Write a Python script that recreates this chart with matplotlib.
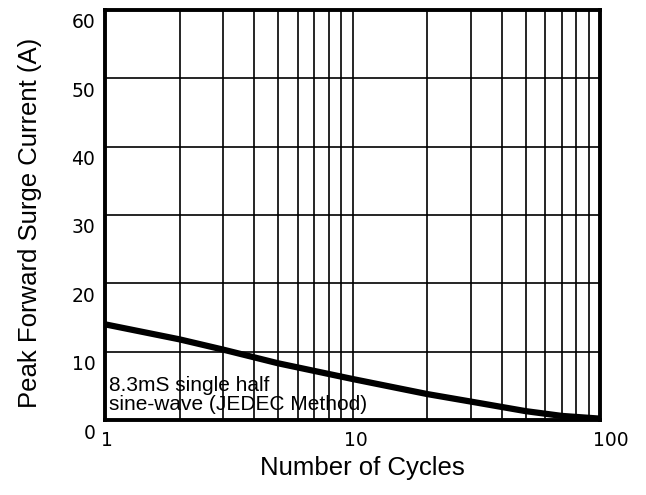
import numpy as np
import matplotlib
matplotlib.use('Agg')
import matplotlib.pyplot as plt
import matplotlib.transforms as mtrans

# curve
cycles = [1, 2, 3, 5, 10, 20, 30, 50, 70, 100]
current = [14.0, 11.8, 10.3, 8.3, 6.0, 3.8, 2.7, 1.3, 0.6, 0.2]

x_ticks = [1, 10, 100]
x_labels = ['1', '10', '100']
y_ticks = [0, 10, 20, 30, 40, 50, 60]

plt.rcParams['font.family'] = ['Liberation Sans', 'DejaVu Sans']

fig = plt.figure(figsize=(6.46, 4.95), dpi=100, facecolor='w')
ax = fig.add_axes([0.1625, 0.1515, 0.7665, 0.8285])

ax.set_xscale('log')
ax.set_xlim(1, 100)
ax.set_ylim(0, 60)

# grid lines (major and minor decades)
minor = [m * d for d in (1, 10) for m in range(2, 10)]
for v in minor + [10]:
    ax.axvline(v, color='black', lw=1.2, zorder=1)
for v in y_ticks[1:-1]:
    ax.axhline(v, color='black', lw=1.2, zorder=1)

ax.plot(cycles, current, color='black', lw=4.5, solid_capstyle='butt', zorder=3)

ax.set_xticks(x_ticks)
ax.set_xticklabels(x_labels)
ax.xaxis.set_minor_locator(matplotlib.ticker.NullLocator())
ax.set_yticks(y_ticks)
ax.set_yticklabels([str(v) for v in y_ticks])
ax.tick_params(length=0, labelsize=13.5)
ax.tick_params(axis='x', pad=8)
ax.tick_params(axis='y', pad=7)
for lbl in ax.get_xticklabels() + ax.get_yticklabels():
    lbl.set_family('DejaVu Sans')

off_y = mtrans.ScaledTranslation(0, -11 / 100, fig.dpi_scale_trans)
for lbl in ax.get_yticklabels():
    lbl.set_transform(lbl.get_transform() + off_y)
for lbl, dx in zip(ax.get_xticklabels(), [2, 3, 11]):
    lbl.set_transform(lbl.get_transform() + mtrans.ScaledTranslation(dx / 100, 0, fig.dpi_scale_trans))

for s in ax.spines.values():
    s.set_linewidth(2.8)
    s.set_zorder(5)

ax.text(1.04, 0.9, '8.3mS single half\nsine-wave (JEDEC Method)', fontsize=15,
        ha='left', va='bottom', linespacing=1.0, zorder=4)

fig.text(362 / 646, 1 - 468 / 495, 'Number of Cycles',
         fontsize=18.5, ha='center', va='center')
fig.text(30 / 646, 1 - 223 / 495, 'Peak Forward Surge Current (A)',
         fontsize=18.5, ha='center', va='center', rotation=90)

plt.savefig('out.png', dpi=100)
